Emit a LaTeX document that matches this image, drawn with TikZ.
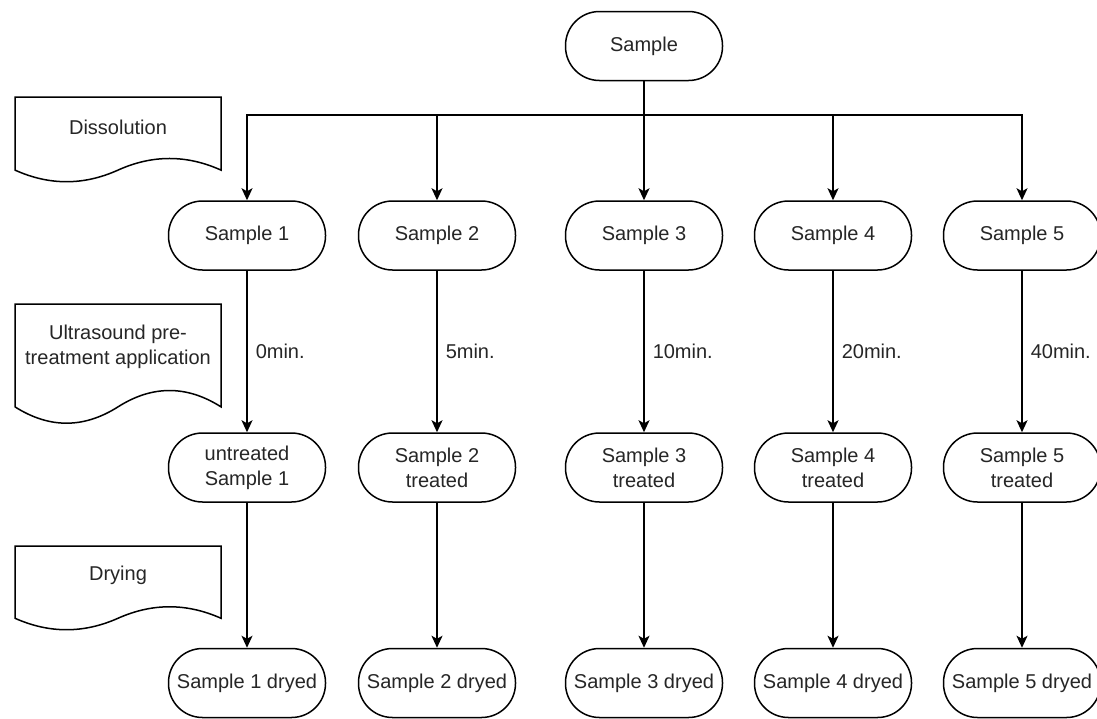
\documentclass[tikz,border=0pt]{standalone}
\usepackage{fontspec}
\setmainfont{Liberation Sans}
\usetikzlibrary{arrows.meta}

\newcommand{\docshape}[6]{%
  \pgfmathsetmacro{\docdy}{0.3*#5}%
  \pgfmathsetmacro{\docyb}{#3+#5-\docdy/2}%
  \pgfmathsetmacro{\docyt}{\docyb-0.6*\docdy}%
  \pgfmathsetmacro{\docyl}{\docyb+0.6*\docdy}%
  \draw[wire] (#2,#3) -- (#2+#4,#3) -- (#2+#4,\docyb)
    .. controls (#2+5*#4/6,\docyt) and (#2+2*#4/3,\docyt) .. (#2+#4/2,\docyb)
    .. controls (#2+#4/3,\docyl) and (#2+#4/6,\docyl) .. (#2,\docyb) -- cycle;
  \node[doctext] (#1) at (#2+#4/2,#3+0.35*#5) {#6};
}

\begin{document}
\begin{tikzpicture}[x=1pt,y=-1pt,
  wire/.style={line width=1.5pt,black},
  arr/.style={wire,-{Stealth[length=12pt,width=11pt,inset=3pt]}},
  term/.style={draw,line width=1.5pt,rounded corners=34pt,minimum width=157pt,
    minimum height=69pt,inner sep=0pt,align=center,
    font=\fontsize{20}{25}\selectfont,text=black!85},
  doctext/.style={align=center,inner sep=0pt,font=\fontsize{20}{25}\selectfont,text=black!85},
  lbl/.style={right=6pt,inner sep=2pt,font=\fontsize{20}{24}\selectfont,text=black!85}]
\useasboundingbox (0,0) rectangle (1097,718);
\fill[white] (0,0) rectangle (1097,718);

\docshape{dis}{15}{97}{206}{86}{Dissolution}
\docshape{ult}{15}{304}{206}{121}{Ultrasound pre-\\treatment application}
\docshape{dry}{15}{546}{206}{85}{Drying}

\node[term] (s0) at (644,46) {Sample};
\coordinate (bus) at (644,115);

\foreach \i/\x in {1/247,2/437,3/644,4/833,5/1022} {
  \node[term] (s\i) at (\x,235.5) {Sample \i};
  \node[term] (d\i) at (\x,683) {Sample \i{} dryed};
}
\node[term] (t1) at (247,467.5) {untreated\\Sample 1};
\foreach \i/\x in {2/437,3/644,4/833,5/1022}
  \node[term] (t\i) at (\x,467.5) {Sample \i\\treated};

\foreach \i/\m in {1/0,2/5,3/10,4/20,5/40} {
  \draw[arr] (s0.south) -- (bus) -| (s\i.north);
  \draw[arr] (s\i) -- node[lbl] {{\m}min.} (t\i);
  \draw[arr] (t\i) -- (d\i);
}
\end{tikzpicture}
\end{document}
